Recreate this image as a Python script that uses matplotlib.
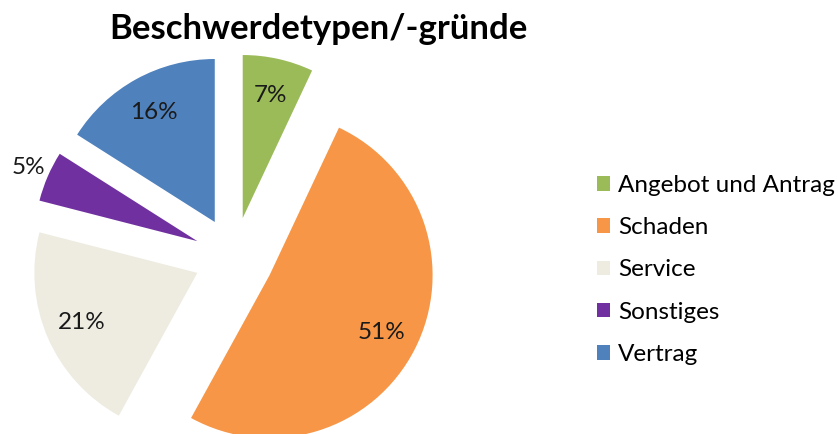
import numpy as np
import matplotlib
matplotlib.use("Agg")
from matplotlib import pyplot as plt

kategorien = ["Angebot und Antrag", "Schaden", "Service", "Sonstiges", "Vertrag"]
anteile = [7, 51, 21, 5, 16]
farben = ["#9BBB59", "#F79646", "#EEECE1", "#7030A0", "#4F81BD"]
explode = [0.245] * 5

plt.rcParams['font.family'] = ['Lato', 'DejaVu Sans']

fig = plt.figure(figsize=(8.38, 4.34), dpi=100)
ax = fig.add_axes([0, 0, 1, 1])

wedges, texts, autotexts = ax.pie(anteile, colors=farben, explode=explode,
                                  startangle=90, counterclock=False,
                                  autopct='%1.0f%%', pctdistance=0.77,
                                  textprops={'fontsize': 17.5, 'color': '#1a1a1a'})

# kleines Segment: Beschriftung außerhalb
w = wedges[3]
winkel = np.deg2rad((w.theta1 + w.theta2) / 2)
cx, cy = w.center
autotexts[3].set_position((cx + 1.13 * np.cos(winkel), cy + 1.13 * np.sin(winkel)))

# 163 px pro Einheit, Mittelpunkt bei (234, 257) px
ax.set_xlim(-234 / 163, (838 - 234) / 163)
ax.set_ylim((257 - 434) / 163, 257 / 163)
ax.set_aspect('auto')
ax.axis('off')

fig.text(318 / 838, 1 - 29 / 434, "Beschwerdetypen/-gründe", ha='center', va='center',
         fontsize=25, fontweight='bold')

ax.legend(wedges, kategorien, loc='center left', bbox_to_anchor=(597 / 838, 1 - 270 / 434),
          bbox_transform=fig.transFigure, frameon=False, fontsize=17.5,
          handlelength=0.55, handleheight=0.55, handletextpad=0.33, labelspacing=0.87,
          borderpad=0, borderaxespad=0)

plt.savefig('out.png', dpi=100)
